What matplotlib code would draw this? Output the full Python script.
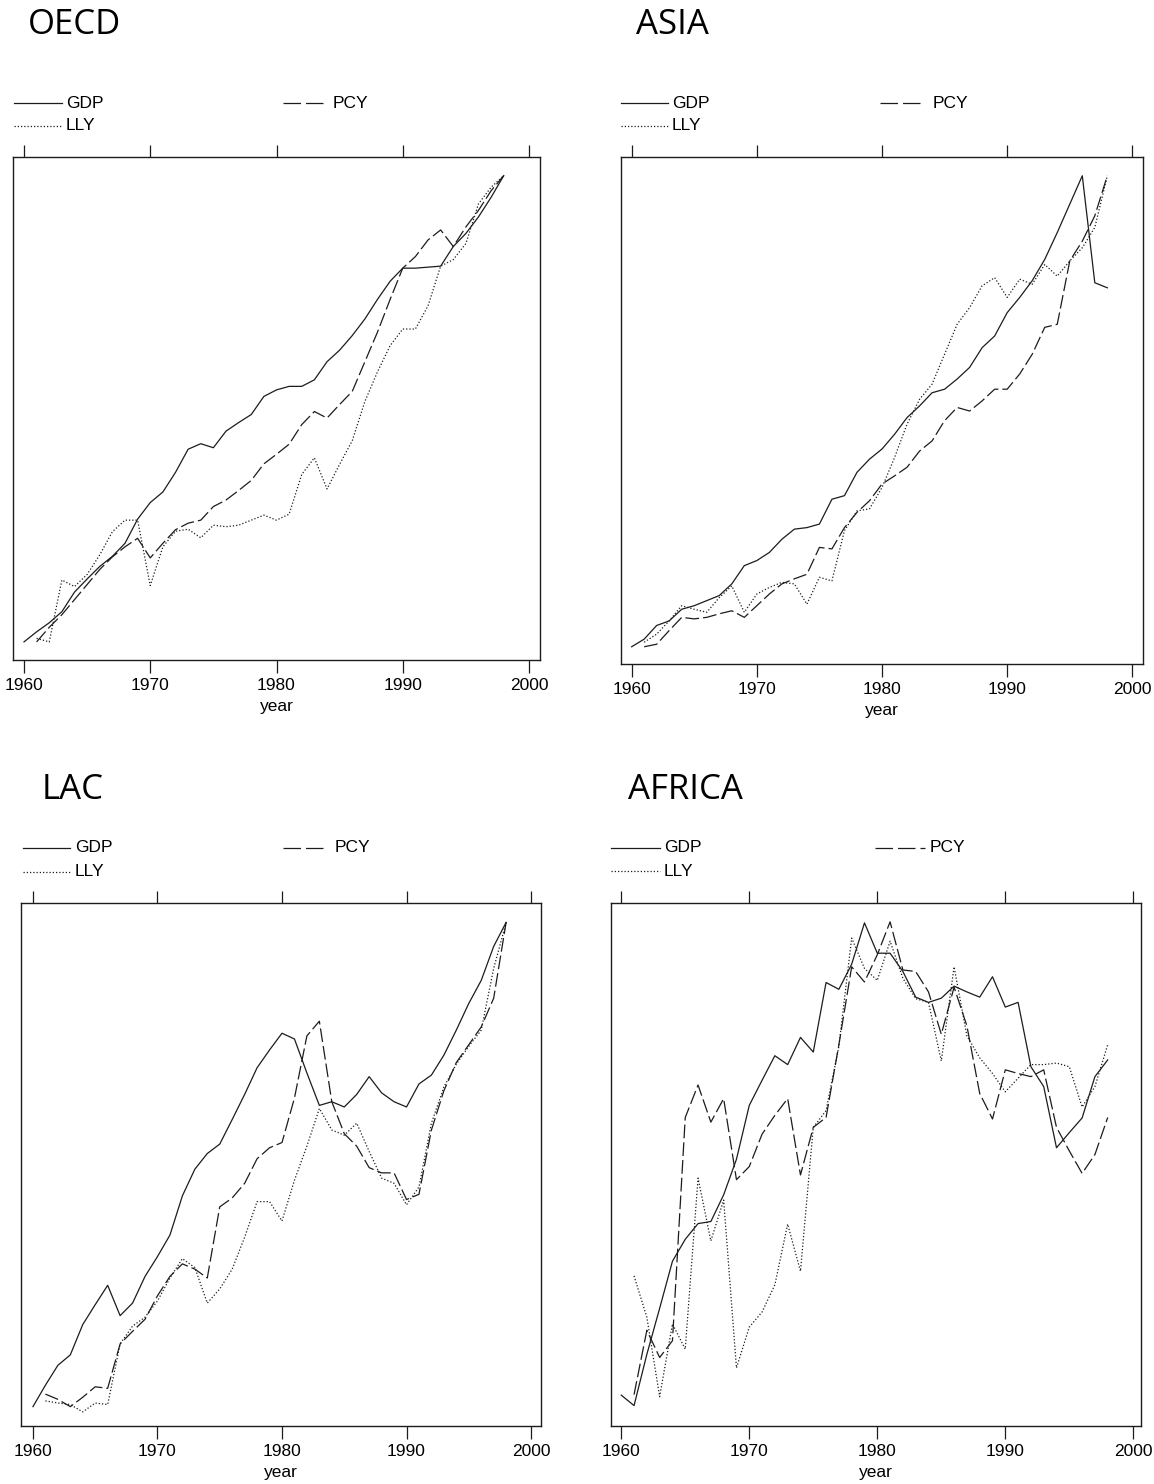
import matplotlib
matplotlib.use("Agg")
import matplotlib.pyplot as plt
from matplotlib.lines import Line2D
import matplotlib.transforms as mtransforms

# ---------------- data (arbitrary index units, 0-100 = frame height) ----------------
years = list(range(1960, 1999))

oecd_gdp = [3.6, 5.6, 7.4, 9.6, 13.5, 16.1, 18.6, 20.6, 23.2, 28.0, 31.3, 33.4, 37.3, 41.9, 43.0,
            42.2, 45.5, 47.2, 48.8, 52.4, 53.7, 54.4, 54.4, 55.7, 59.3, 61.6, 64.5, 67.8, 71.7,
            75.3, 77.9, 77.9, 78.1, 78.3, 82.2, 84.8, 88.1, 92.0, 96.3]
oecd_pcy_years = list(range(1961, 1999))
oecd_pcy = [3.6, 6.5, 9.0, 12.0, 15.0, 18.0, 20.5, 22.5, 24.2, 20.3, 23.2, 25.9, 27.2, 27.8,
            30.5, 31.8, 33.7, 35.7, 39.0, 40.9, 42.9, 46.8, 49.4, 48.1, 50.8, 53.4, 59.3, 65.2,
            71.7, 77.9, 80.2, 83.5, 85.5, 82.2, 86.1, 89.4, 93.3, 96.3]
oecd_lly_years = list(range(1961, 1999))
oecd_lly = [4.3, 3.6, 15.9, 14.6, 17.0, 20.9, 25.5, 27.8, 27.8, 14.8, 22.5, 25.6, 26.0, 24.3,
            26.8, 26.5, 26.8, 27.8, 28.8, 27.8, 29.0, 36.9, 40.2, 34.0, 38.9, 43.6, 51.4, 57.3,
            62.5, 65.8, 65.8, 70.4, 78.3, 79.6, 82.8, 90.7, 94.0, 96.3]

asia_gdp = [3.4, 4.9, 7.6, 8.5, 10.8, 11.5, 12.5, 13.5, 15.8, 19.4, 20.4, 22.0, 24.6, 26.6, 26.9,
            27.6, 32.5, 33.2, 37.8, 40.4, 42.4, 45.3, 48.6, 50.9, 53.5, 54.2, 56.2, 58.5, 62.4,
            64.7, 69.3, 72.3, 75.6, 79.8, 85.1, 90.7, 96.3, 75.2, 74.2]
asia_pcy_years = list(range(1961, 1999))
asia_pcy = [3.4, 3.9, 6.6, 9.2, 8.9, 9.2, 9.9, 10.5, 9.2, 11.5, 13.8, 15.8, 16.8, 17.7, 23.0,
            22.7, 26.9, 29.9, 32.2, 35.5, 37.1, 38.8, 42.0, 44.0, 48.0, 50.6, 49.9, 51.9, 54.2,
            54.2, 57.2, 61.1, 66.4, 67.0, 79.5, 83.4, 88.4, 96.3]
asia_lly_years = list(range(1961, 1999))
asia_lly = [4.3, 5.9, 8.5, 11.5, 10.8, 10.2, 13.1, 15.4, 10.2, 13.8, 15.1, 16.1, 15.8, 11.8,
            17.1, 16.4, 26.3, 30.2, 30.6, 34.8, 40.7, 47.3, 52.2, 55.2, 61.1, 67.0, 70.3, 74.6,
            76.2, 72.3, 75.9, 74.9, 78.8, 76.5, 79.5, 82.1, 86.1, 96.3]

lac_gdp = [3.7, 7.8, 11.6, 13.6, 19.4, 23.2, 26.9, 21.1, 23.5, 28.6, 32.4, 36.5, 44.0, 49.1, 52.1,
           53.9, 58.6, 63.4, 68.5, 71.9, 75.1, 74.0, 67.5, 61.3, 62.0, 61.0, 63.4, 66.8, 63.7,
           62.0, 61.0, 65.4, 67.1, 70.9, 75.7, 80.8, 85.2, 91.7, 96.3]
lac_pcy_years = list(range(1961, 1999))
lac_pcy = [6.1, 5.1, 3.7, 5.5, 7.5, 7.2, 15.7, 18.1, 20.4, 24.9, 28.6, 31.0, 30.0, 28.3, 41.9,
           43.6, 46.4, 51.1, 53.2, 54.2, 62.7, 74.6, 77.4, 62.0, 55.9, 53.5, 49.4, 48.4, 48.4,
           43.3, 44.3, 56.6, 64.1, 69.5, 72.9, 76.3, 81.8, 96.3]
lac_lly_years = list(range(1961, 1999))
lac_lly = [4.8, 4.4, 4.1, 2.7, 4.4, 4.1, 15.7, 19.1, 20.8, 23.9, 28.3, 32.0, 30.3, 23.5, 26.2,
           30.0, 36.1, 42.9, 42.9, 39.2, 47.0, 53.5, 60.7, 56.6, 55.6, 57.9, 52.5, 47.4, 46.4,
           42.3, 45.7, 57.9, 64.8, 69.2, 72.6, 75.7, 87.5, 96.3]

africa_gdp = [5.9, 3.9, 13.7, 22.5, 31.5, 35.7, 38.7, 39.1, 44.2, 51.0, 61.3, 66.1, 70.8, 69.1,
              74.3, 71.5, 84.8, 83.5, 88.3, 96.2, 90.4, 90.4, 86.9, 82.0, 81.0, 81.8, 84.1, 83.0,
              82.0, 85.9, 80.1, 81.0, 68.7, 64.9, 53.2, 56.1, 58.9, 66.8, 70.0]
africa_pcy_years = list(range(1961, 1999))
africa_pcy = [6.0, 18.3, 13.1, 16.3, 59.0, 65.2, 58.1, 62.6, 47.1, 49.6, 55.8, 59.4, 62.6, 48.0,
              57.1, 59.0, 72.9, 87.8, 84.9, 90.1, 96.4, 87.2, 86.9, 83.0, 74.9, 83.9, 76.5, 63.6,
              58.7, 68.1, 67.4, 66.8, 68.1, 57.1, 52.6, 48.3, 51.9, 59.0]
africa_lly_years = list(range(1961, 1999))
africa_lly = [28.7, 20.8, 5.6, 19.5, 14.7, 47.4, 35.4, 43.2, 11.1, 18.9, 21.8, 27.0, 38.6, 29.6,
              57.1, 60.3, 72.6, 93.3, 87.5, 85.2, 92.7, 85.6, 81.7, 81.0, 69.8, 87.8, 74.6, 70.4,
              67.4, 63.9, 66.5, 69.1, 69.1, 69.4, 68.7, 61.0, 64.9, 72.9]

panel_titles = ["OECD", "ASIA", "LAC", "AFRICA"]
x_ticks = [1960, 1970, 1980, 1990, 2000]
series_labels = ["GDP", "PCY", "LLY"]

# ---------------- layout ----------------
W, H = 1154, 1484
fig = plt.figure(figsize=(W / 100, H / 100), dpi=100)
fig.patch.set_facecolor("white")

# pixel transform (origin top-left)
pix = mtransforms.Affine2D().scale(1.0 / W, -1.0 / H).translate(0, 1) + fig.transFigure

INK = "#1c1c1c"
LW = 0.9
STY = {"GDP": "-", "PCY": (0, (11, 3.2)), "LLY": (0, (1.0, 1.6))}

panels = [
    dict(frame=(13, 157, 540, 660), xlim=(1959.13, 2000.87), title=(28, 25),
         leg=dict(x0=14, x1=62, tx=66, y1=103, y2=126, px0=283, px1=328, ptx=333),
         data=(years, oecd_gdp, oecd_pcy_years, oecd_pcy, oecd_lly_years, oecd_lly)),
    dict(frame=(621, 157, 1143, 664), xlim=(1959.15, 2000.85), title=(636, 25),
         leg=dict(x0=621, x1=668, tx=672, y1=103, y2=126, px0=880, px1=925, ptx=933),
         data=(years, asia_gdp, asia_pcy_years, asia_pcy, asia_lly_years, asia_lly)),
    dict(frame=(21, 903, 541, 1426), xlim=(1959.04, 2000.8), title=(42, 790),
         leg=dict(x0=23, x1=70, tx=75, y1=848, y2=872, px0=283, px1=327, ptx=335),
         data=(years, lac_gdp, lac_pcy_years, lac_pcy, lac_lly_years, lac_lly)),
    dict(frame=(611, 903, 1141, 1426), xlim=(1959.2, 2000.6), title=(628, 790),
         leg=dict(x0=611, x1=660, tx=664, y1=848, y2=871, px0=875, px1=925, ptx=930),
         data=(years, africa_gdp, africa_pcy_years, africa_pcy, africa_lly_years, africa_lly)),
]

TXT_FONT = ["Liberation Sans", "DejaVu Sans"]
TITLE_FONT = ["Open Sans", "DejaVu Sans"]

for title, p in zip(panel_titles, panels):
    l, t, r, b = p["frame"]
    ax = fig.add_axes([l / W, 1 - b / H, (r - l) / W, (b - t) / H])
    gy, gv, py, pv, ly, lv = p["data"]
    ax.plot(gy, gv, color=INK, lw=LW, linestyle=STY["GDP"])
    ax.plot(py, pv, color=INK, lw=LW, linestyle=STY["PCY"])
    ax.plot(ly, lv, color=INK, lw=LW, linestyle=STY["LLY"])
    ax.set_xlim(*p["xlim"])
    ax.set_ylim(0, 100)
    ax.set_xticks(x_ticks)
    ax.set_xticklabels([str(v) for v in x_ticks], fontfamily=TXT_FONT, fontsize=12.5)
    ax.set_yticks([])
    ax.tick_params(axis="x", direction="out", length=9, width=0.9, color=INK,
                   top=True, bottom=True, labeltop=False, pad=4)
    for s in ax.spines.values():
        s.set_linewidth(1.0)
        s.set_color(INK)
    ax.set_xlabel("year", fontfamily=TXT_FONT, fontsize=12.5, labelpad=4)

    tx, ty = p["title"]
    fig.text(tx / W, 1 - ty / H, title, fontfamily=TITLE_FONT, fontsize=25,
             ha="left", va="center", color="black")

    g = p["leg"]
    fig.add_artist(Line2D([g["x0"], g["x1"]], [g["y1"], g["y1"]], transform=pix,
                          color=INK, lw=LW, linestyle=STY["GDP"]))
    fig.text(g["tx"] / W, 1 - g["y1"] / H, series_labels[0], fontfamily=TXT_FONT,
             fontsize=12.5, ha="left", va="center")
    fig.add_artist(Line2D([g["px0"], g["px1"]], [g["y1"], g["y1"]], transform=pix,
                          color=INK, lw=LW, linestyle=(0, (14, 4))))
    fig.text(g["ptx"] / W, 1 - g["y1"] / H, series_labels[1], fontfamily=TXT_FONT,
             fontsize=12.5, ha="left", va="center")
    fig.add_artist(Line2D([g["x0"], g["x1"]], [g["y2"], g["y2"]], transform=pix,
                          color=INK, lw=LW, linestyle=STY["LLY"]))
    fig.text(g["tx"] / W, 1 - g["y2"] / H, series_labels[2], fontfamily=TXT_FONT,
             fontsize=12.5, ha="left", va="center")

fig.savefig("out.png", dpi=100, facecolor="white")
